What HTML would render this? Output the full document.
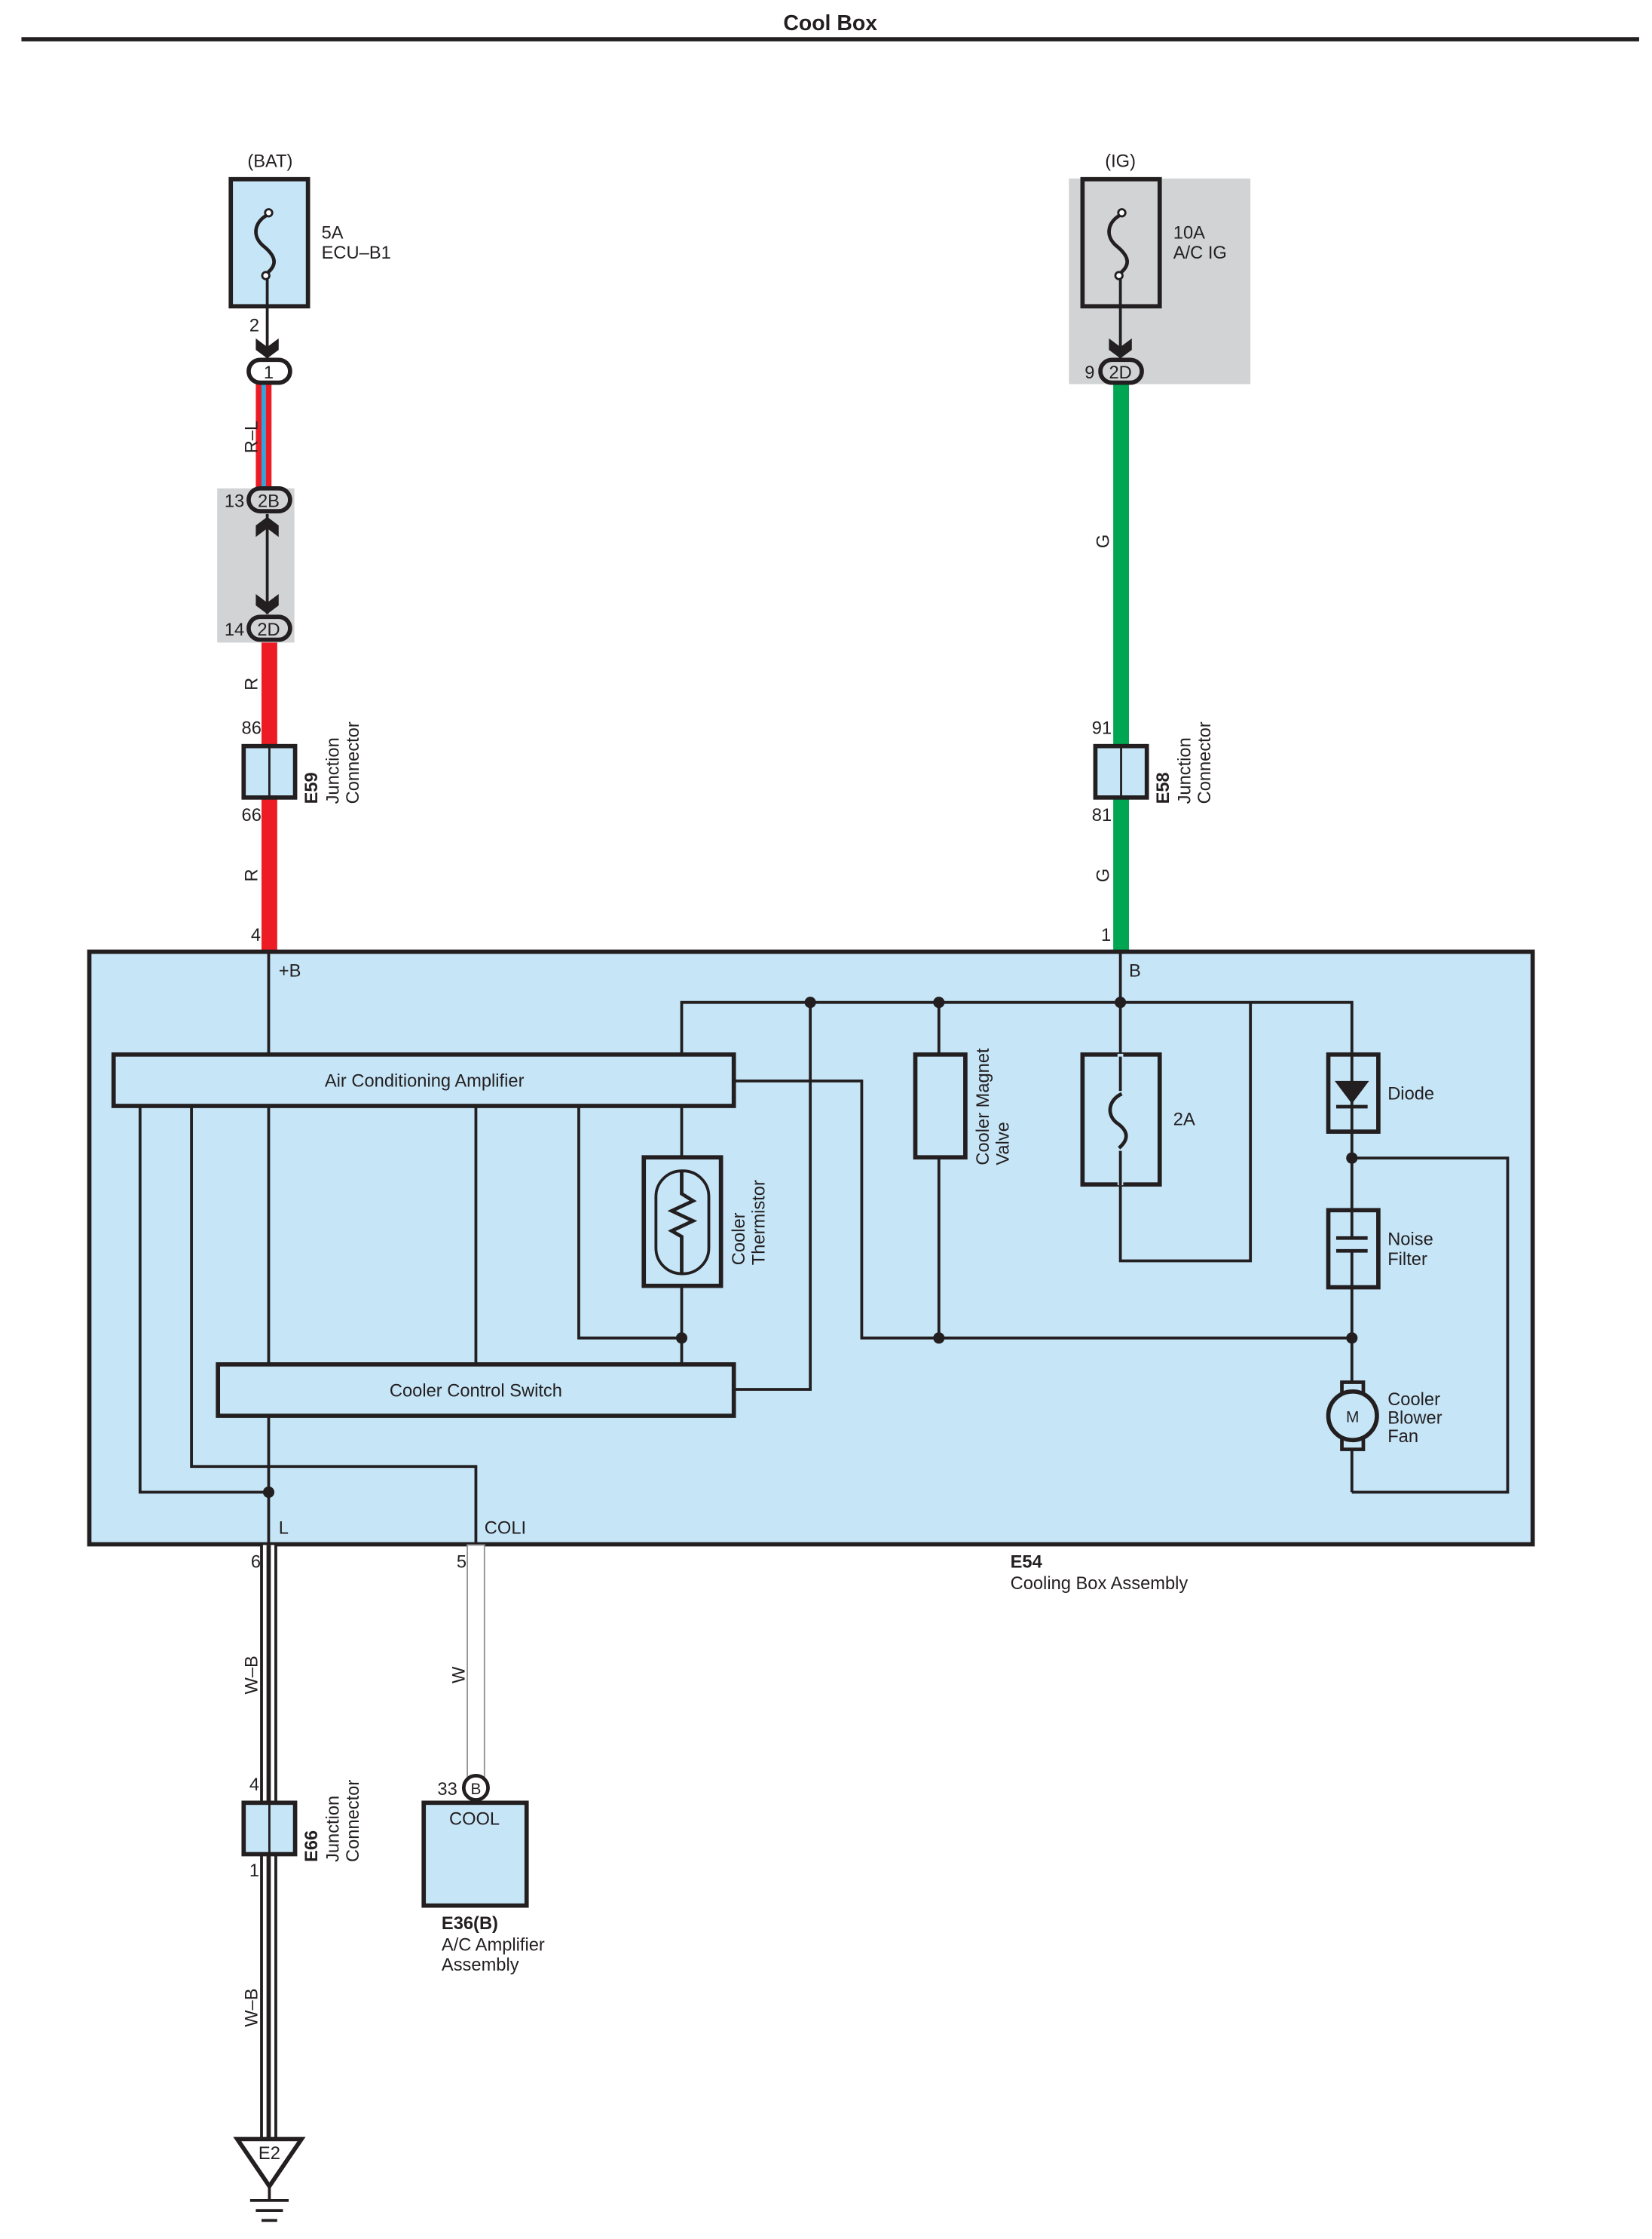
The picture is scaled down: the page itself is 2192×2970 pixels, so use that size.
<!DOCTYPE html>
<html><head><meta charset="utf-8"><style>
html,body{margin:0;padding:0;background:#fff}
svg{display:block}
text{font-family:"Liberation Sans",sans-serif;font-size:12.5px;fill:#231f20}
</style></head><body>
<svg width="2192" height="2970" viewBox="0 0 1156 1568" preserveAspectRatio="none" xmlns="http://www.w3.org/2000/svg">
<defs>
<g id="chev"><path d="M-8,-10 L0,-4 L8,-10 L8,-2 L0,4 L-8,-2 Z" fill="#231f20"/></g>
<g id="chevu"><path d="M-8,10 L0,4 L8,10 L8,2 L0,-4 L-8,2 Z" fill="#231f20"/></g>
</defs>
<text x="581" y="21" text-anchor="middle" style="font-weight:bold;font-size:15px">Cool Box</text>
<line x1="15" y1="27.5" x2="1147" y2="27.5" stroke="#231f20" stroke-width="3"/>

<!-- BAT -->
<text x="189" y="117" text-anchor="middle">(BAT)</text>
<rect x="161.5" y="125.5" width="54" height="89" fill="#c6e6f8" stroke="#231f20" stroke-width="3"/>
<path d="M188,150 C178,155 176,165 184,172 C194,180 194,186 186,192" fill="none" stroke="#231f20" stroke-width="2.5"/>
<circle cx="188" cy="149" r="2.5" fill="#fff" stroke="#231f20" stroke-width="1.5"/>
<circle cx="186" cy="193" r="2.5" fill="#fff" stroke="#231f20" stroke-width="1.5"/>
<line x1="187" y1="195" x2="187" y2="252" stroke="#231f20" stroke-width="2"/>
<text x="225" y="167">5A</text><text x="225" y="181">ECU–B1</text>
<text x="178" y="232" text-anchor="middle">2</text>
<use href="#chev" x="187" y="247"/>
<rect x="179" y="268" width="4" height="74" fill="#ed1c24"/>
<rect x="183" y="268" width="3" height="74" fill="#2aa7e0"/>
<rect x="186" y="268" width="4" height="74" fill="#ed1c24"/>
<rect x="174" y="252" width="29" height="16" rx="8" fill="#fff" stroke="#231f20" stroke-width="3"/>
<text x="188" y="265" text-anchor="middle">1</text>
<text transform="translate(180,306) rotate(-90)" text-anchor="middle">R–L</text>
<rect x="152" y="342" width="54" height="108" fill="#d1d3d4"/>
<line x1="187" y1="360" x2="187" y2="430" stroke="#231f20" stroke-width="2"/>
<use href="#chevu" x="187" y="366"/>
<use href="#chev" x="187" y="426"/>
<rect x="174" y="342" width="29" height="16" rx="8" fill="#d1d3d4" stroke="#231f20" stroke-width="3"/>
<text x="188" y="355" text-anchor="middle">2B</text>
<rect x="174" y="432" width="29" height="16" rx="8" fill="#d1d3d4" stroke="#231f20" stroke-width="3"/>
<text x="188" y="445" text-anchor="middle">2D</text>
<text x="171" y="355" text-anchor="end">13</text>
<text x="171" y="445" text-anchor="end">14</text>
<rect x="183" y="450" width="11" height="216" fill="#ed1c24"/>
<text transform="translate(180,479) rotate(-90)" text-anchor="middle">R</text>
<text transform="translate(180,613) rotate(-90)" text-anchor="middle">R</text>
<rect x="170.5" y="522.5" width="36" height="36" fill="#c6e6f8" stroke="#231f20" stroke-width="3"/>
<line x1="188.5" y1="522" x2="188.5" y2="559" stroke="#231f20" stroke-width="1.5"/>
<text x="176" y="514" text-anchor="middle">86</text>
<text x="176" y="575" text-anchor="middle">66</text>
<text transform="translate(222,563) rotate(-90)" style="font-weight:bold">E59</text>
<text transform="translate(237,563) rotate(-90)">Junction</text>
<text transform="translate(251,563) rotate(-90)">Connector</text>
<text x="179" y="659" text-anchor="middle">4</text>

<!-- IG -->
<text x="784" y="117" text-anchor="middle">(IG)</text>
<rect x="748" y="125" width="127" height="144" fill="#d1d3d4"/>
<rect x="757.5" y="125.5" width="54" height="89" fill="#d1d3d4" stroke="#231f20" stroke-width="3"/>
<path d="M785,150 C775,155 773,165 781,172 C791,180 791,186 783,192" fill="none" stroke="#231f20" stroke-width="2.5"/>
<circle cx="785" cy="149" r="2.5" fill="#fff" stroke="#231f20" stroke-width="1.5"/>
<circle cx="783" cy="193" r="2.5" fill="#fff" stroke="#231f20" stroke-width="1.5"/>
<line x1="784" y1="195" x2="784" y2="252" stroke="#231f20" stroke-width="2"/>
<text x="821" y="167">10A</text><text x="821" y="181">A/C IG</text>
<use href="#chev" x="784" y="247"/>
<rect x="779" y="268" width="11" height="398" fill="#00a651"/>
<rect x="770" y="252" width="29" height="16" rx="8" fill="#d1d3d4" stroke="#231f20" stroke-width="3"/>
<text x="784" y="265" text-anchor="middle">2D</text>
<text x="766" y="265" text-anchor="end">9</text>
<text transform="translate(776,379) rotate(-90)" text-anchor="middle">G</text>
<text transform="translate(776,613) rotate(-90)" text-anchor="middle">G</text>
<rect x="766.5" y="522.5" width="36" height="36" fill="#c6e6f8" stroke="#231f20" stroke-width="3"/>
<line x1="784.5" y1="522" x2="784.5" y2="559" stroke="#231f20" stroke-width="1.5"/>
<text x="771" y="514" text-anchor="middle">91</text>
<text x="771" y="575" text-anchor="middle">81</text>
<text transform="translate(818,563) rotate(-90)" style="font-weight:bold">E58</text>
<text transform="translate(833,563) rotate(-90)">Junction</text>
<text transform="translate(847,563) rotate(-90)">Connector</text>
<text x="774" y="659" text-anchor="middle">1</text>

<!-- main box -->
<rect x="62.5" y="666.5" width="1010" height="415" fill="#c6e6f8" stroke="#231f20" stroke-width="3"/>
<text x="195" y="684">+B</text>
<text x="790" y="684">B</text>
<g fill="none" stroke="#231f20" stroke-width="2">
<line x1="188" y1="667" x2="188" y2="1081"/>
<polyline points="477,738 477,702 946,702 946,738"/>
<line x1="784" y1="667" x2="784" y2="738"/>
<polyline points="784,830 784,883 875,883 875,702"/>
<line x1="477" y1="774" x2="477" y2="955"/>
<line x1="657" y1="702" x2="657" y2="937"/>
<polyline points="514,757 603,757 603,937 946,937"/>
<polyline points="405,774 405,937 477,937"/>
<line x1="333" y1="774" x2="333" y2="955"/>
<polyline points="514,973 567,973 567,702"/>
<polyline points="98,774 98,1045 188,1045"/>
<polyline points="134,774 134,1027 333,1027 333,1081"/>
<line x1="946" y1="738" x2="946" y2="1045"/>
<polyline points="946,811 1055,811 1055,1045 946,1045"/>
</g>
<g fill="#231f20">
<circle cx="567" cy="702" r="4"/><circle cx="657" cy="702" r="4"/><circle cx="784" cy="702" r="4"/>
<circle cx="477" cy="937" r="4"/><circle cx="657" cy="937" r="4"/><circle cx="946" cy="937" r="4"/>
<circle cx="946" cy="811" r="4"/><circle cx="188" cy="1045" r="4"/>
</g>
<rect x="79.5" y="738.5" width="434" height="36" fill="#c6e6f8" stroke="#231f20" stroke-width="3"/>
<text x="297" y="761" text-anchor="middle">Air Conditioning Amplifier</text>
<rect x="152.5" y="955.5" width="361" height="36" fill="#c6e6f8" stroke="#231f20" stroke-width="3"/>
<text x="333" y="978" text-anchor="middle">Cooler Control Switch</text>
<!-- thermistor -->
<rect x="450.5" y="810.5" width="54" height="90" fill="#c6e6f8" stroke="#231f20" stroke-width="3"/>
<rect x="459" y="820" width="37" height="72" rx="18" fill="none" stroke="#231f20" stroke-width="2"/>
<polyline points="477,820 477,836 485,841 470,848 485,855 470,862 477,866 477,892" fill="none" stroke="#231f20" stroke-width="2.5"/>
<text transform="translate(521,886) rotate(-90)">Cooler</text>
<text transform="translate(535,886) rotate(-90)">Thermistor</text>
<!-- magnet valve -->
<rect x="640.5" y="738.5" width="35" height="72" fill="#c6e6f8" stroke="#231f20" stroke-width="3"/>
<text transform="translate(692,816) rotate(-90)">Cooler Magnet</text>
<text transform="translate(706,816) rotate(-90)">Valve</text>
<!-- 2A fuse -->
<rect x="757.5" y="738.5" width="54" height="91" fill="#c6e6f8" stroke="#231f20" stroke-width="3"/>
<rect x="782" y="738" width="4" height="92" fill="#c6e6f8"/>
<line x1="784" y1="740" x2="784" y2="764" stroke="#231f20" stroke-width="2"/>
<line x1="784" y1="806" x2="784" y2="830" stroke="#231f20" stroke-width="2"/>
<path d="M785,766 C776,770 774,780 781,786 C790,792 790,798 783,804" fill="none" stroke="#231f20" stroke-width="2.5"/>
<text x="821" y="788">2A</text>
<!-- diode -->
<rect x="929.5" y="738.5" width="35" height="54" fill="#c6e6f8" stroke="#231f20" stroke-width="3"/>
<line x1="946" y1="738" x2="946" y2="793" stroke="#231f20" stroke-width="2"/>
<path d="M934,757 L958,757 L946,773 Z" fill="#231f20"/>
<line x1="935" y1="775" x2="957" y2="775" stroke="#231f20" stroke-width="2.5"/>
<text x="971" y="770">Diode</text>
<!-- noise filter -->
<rect x="929.5" y="847.5" width="35" height="54" fill="#c6e6f8" stroke="#231f20" stroke-width="3"/>
<rect x="935" y="866" width="23" height="9" fill="#c6e6f8"/>
<line x1="935" y1="867" x2="957" y2="867" stroke="#231f20" stroke-width="2.5"/>
<line x1="935" y1="876" x2="957" y2="876" stroke="#231f20" stroke-width="2.5"/>
<line x1="946" y1="847" x2="946" y2="866" stroke="#231f20" stroke-width="2"/>
<line x1="946" y1="877" x2="946" y2="902" stroke="#231f20" stroke-width="2"/>
<text x="971" y="872">Noise</text><text x="971" y="886">Filter</text>
<!-- motor -->
<rect x="939" y="968" width="15" height="47" fill="#c6e6f8" stroke="#231f20" stroke-width="2.5"/>
<circle cx="946.5" cy="991.5" r="17" fill="#c6e6f8" stroke="#231f20" stroke-width="3"/>
<text x="946.5" y="996" text-anchor="middle" style="font-size:11px">M</text>
<text x="971" y="984">Cooler</text><text x="971" y="997">Blower</text><text x="971" y="1010">Fan</text>

<text x="195" y="1074">L</text>
<text x="339" y="1074">COLI</text>
<text x="707" y="1098" style="font-weight:bold">E54</text>
<text x="707" y="1113">Cooling Box Assembly</text>

<!-- W-B -->
<rect x="182" y="1082" width="12" height="418" fill="#231f20"/>
<rect x="184" y="1082" width="8" height="418" fill="#fff"/>
<rect x="186.5" y="1082" width="3" height="418" fill="#231f20"/>
<text x="179" y="1098" text-anchor="middle">6</text>
<text transform="translate(180,1173) rotate(-90)" text-anchor="middle">W–B</text>
<text transform="translate(180,1406) rotate(-90)" text-anchor="middle">W–B</text>
<rect x="170.5" y="1262.5" width="36" height="36" fill="#c6e6f8" stroke="#231f20" stroke-width="3"/>
<line x1="188.5" y1="1262" x2="188.5" y2="1299" stroke="#231f20" stroke-width="1.5"/>
<text x="178" y="1254" text-anchor="middle">4</text>
<text x="178" y="1314" text-anchor="middle">1</text>
<text transform="translate(222,1304) rotate(-90)" style="font-weight:bold">E66</text>
<text transform="translate(237,1304) rotate(-90)">Junction</text>
<text transform="translate(251,1304) rotate(-90)">Connector</text>
<!-- W -->
<rect x="327" y="1082" width="12" height="163" fill="#fff" stroke="#939598" stroke-width="1"/>
<text x="323" y="1098" text-anchor="middle">5</text>
<text transform="translate(325,1173) rotate(-90)" text-anchor="middle">W</text>
<circle cx="333" cy="1252" r="8.5" fill="#fff" stroke="#231f20" stroke-width="2.5"/>
<text x="333" y="1256.5" text-anchor="middle" style="font-size:11px">B</text>
<text x="320" y="1257" text-anchor="end">33</text>
<rect x="296.5" y="1262.5" width="72" height="72" fill="#c6e6f8" stroke="#231f20" stroke-width="3"/>
<text x="332" y="1278" text-anchor="middle">COOL</text>
<text x="309" y="1351" style="font-weight:bold">E36(B)</text>
<text x="309" y="1366">A/C Amplifier</text>
<text x="309" y="1380">Assembly</text>
<!-- ground -->
<path d="M166,1498 L211,1498 L188.5,1531 Z" fill="#fff" stroke="#231f20" stroke-width="3"/>
<text x="188.5" y="1512" text-anchor="middle">E2</text>
<line x1="188.5" y1="1531" x2="188.5" y2="1541" stroke="#231f20" stroke-width="2"/>
<line x1="175" y1="1541" x2="202" y2="1541" stroke="#231f20" stroke-width="2"/>
<line x1="179" y1="1548" x2="198" y2="1548" stroke="#231f20" stroke-width="2"/>
<line x1="183" y1="1555" x2="194" y2="1555" stroke="#231f20" stroke-width="2"/>
</svg>
</body></html>
